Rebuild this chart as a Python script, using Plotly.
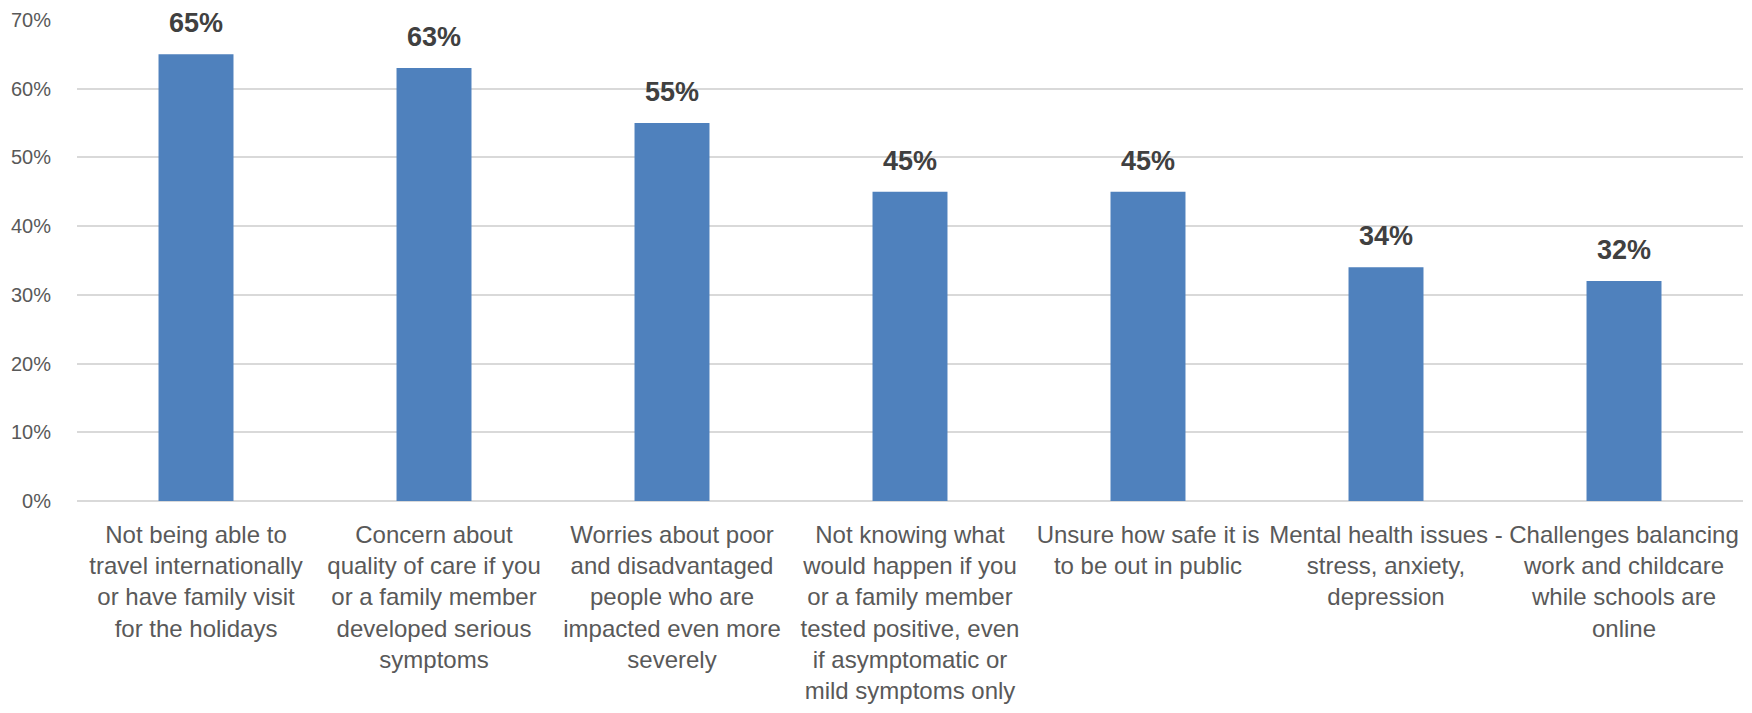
import plotly.graph_objects as go

categories = [
    "Not being able to<br>travel internationally<br>or have family visit<br>for the holidays",
    "Concern about<br>quality of care if you<br>or a family member<br>developed serious<br>symptoms",
    "Worries about poor<br>and disadvantaged<br>people who are<br>impacted even more<br>severely",
    "Not knowing what<br>would happen if you<br>or a family member<br>tested positive, even<br>if asymptomatic or<br>mild symptoms only",
    "Unsure how safe it is<br>to be out in public",
    "Mental health issues -<br>stress, anxiety,<br>depression",
    "Challenges balancing<br>work and childcare<br>while schools are<br>online",
]
values = [0.65, 0.63, 0.55, 0.45, 0.45, 0.34, 0.32]
value_labels = ["65%", "63%", "55%", "45%", "45%", "34%", "32%"]

BAR_COLOR = "#4F81BD"
FONT = "Liberation Sans"

fig = go.Figure()
fig.add_trace(go.Bar(
    x=categories,
    y=values,
    marker=dict(color=BAR_COLOR, line=dict(width=0)),
    width=0.315,
    hoverinfo="skip",
))

for c, v, t in zip(categories, values, value_labels):
    fig.add_annotation(
        x=c, y=v, text="<b>%s</b>" % t, showarrow=False,
        yanchor="middle", yshift=31,
        font=dict(family=FONT, size=27, color="#404040"),
    )

fig.update_layout(
    width=1752, height=713,
    margin=dict(l=77, r=9, t=20, b=212, autoexpand=False),
    paper_bgcolor="white", plot_bgcolor="white",
    showlegend=False,
    font=dict(family=FONT, color="#595959"),
    xaxis=dict(
        tickfont=dict(family=FONT, size=24, color="#595959"),
        showgrid=False, ticks="", showline=False, zeroline=False,
        ticklabelstandoff=17, automargin=False,
    ),
    yaxis=dict(
        range=[0, 0.7], dtick=0.1, tickformat=".0%",
        tickfont=dict(family=FONT, size=20, color="#595959"),
        showgrid=True, gridcolor="#D9D9D9", gridwidth=1.5,
        zeroline=True, zerolinecolor="#D9D9D9", zerolinewidth=1.5,
        showline=False, ticks="", ticklabelstandoff=25, automargin=False,
    ),
)

fig.write_html(
    "out.html",
    config={"displayModeBar": False},
    post_script="document.body.style.margin='0';document.body.style.overflow='hidden';",
)
